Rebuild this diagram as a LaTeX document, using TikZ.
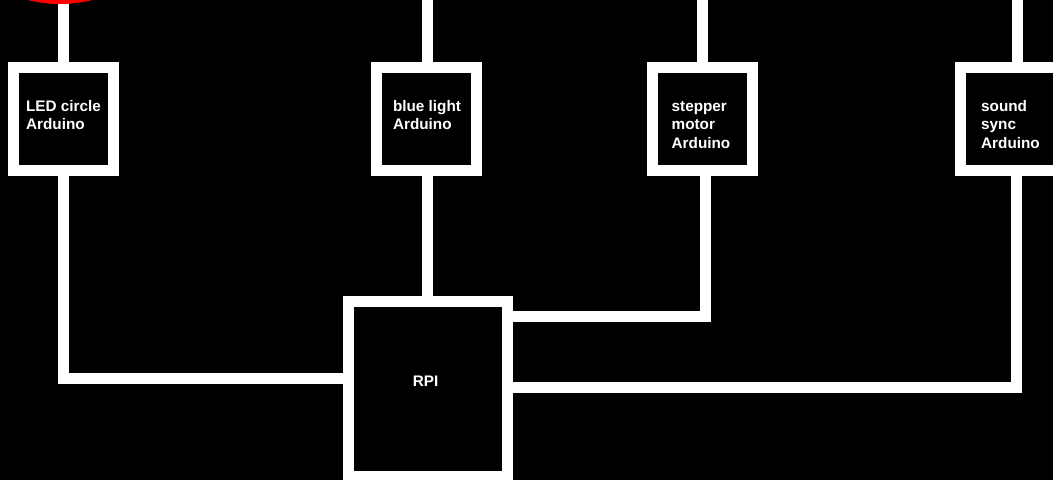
\documentclass[tikz,border=0pt]{standalone}
\usepackage{fontspec}
\setmainfont{Liberation Sans}
\usetikzlibrary{backgrounds}
\begin{document}
\begin{tikzpicture}[x=1pt,y=-1pt,
  wire/.style={draw=white,line width=11pt},
  box/.style={draw=white,line width=11pt,fill=black,inner sep=0pt,minimum width=100pt,minimum height=103pt},
  bigbox/.style={box,minimum width=159pt,minimum height=175pt},
  lbl/.style={text=white,font=\fontsize{15.3}{18.7}\selectfont\bfseries,inner sep=0pt,anchor=base}]
\useasboundingbox (0,0) rectangle (1053,480);
% boxes
\node[box] (b1) at (63.5,119) {};
\node[box] (b2) at (426,119) {};
\node[box] (b3) at (702.5,119) {};
\node[box] (b4) at (1010.5,119) {};
\node[bigbox] (rpi) at (428,389) {};
% top free ends
\coordinate (t1) at (63,-10);
\coordinate (t2) at (427.5,-10);
\coordinate (t3) at (702,-10);
\coordinate (t4) at (1017,-10);
\begin{pgfonlayer}{background}
\fill[black] (0,0) rectangle (1053,480);
\draw[wire] (t1) -- (t1 |- b1.north);
\draw[wire] (t2) -- (t2 |- b2.north);
\draw[wire] (t3) -- (t3 |- b3.north);
\draw[wire] (t4) -- (t4 |- b4.north);
\draw[wire] ([xshift=-0.5pt]b1.south) |- ([yshift=11pt]rpi.west);
\draw[wire] ([xshift=1.5pt]b2.south) coordinate (c2) -- (c2 |- rpi.north);
\draw[wire] ([xshift=2.5pt]b3.south) |- ([yshift=73pt]rpi.east);
\draw[wire] ([xshift=5.5pt]b4.south) |- ([yshift=2pt]rpi.east);
% LED circle (mostly off the top edge)
\fill[red] (60,-126) circle[radius=130pt];
\end{pgfonlayer}
% labels
\node[lbl] (l1) at (63.5,111) {\begin{tabular}[t]{@{}l@{}}LED circle\\Arduino\end{tabular}};
\node[lbl] (l2) at (427,111) {\begin{tabular}[t]{@{}l@{}}blue light\\Arduino\end{tabular}};
\node[lbl] (l3) at (701,111) {\begin{tabular}[t]{@{}l@{}}stepper\\motor\\Arduino\end{tabular}};
\node[lbl] (l4) at (1010.5,111) {\begin{tabular}[t]{@{}l@{}}sound\\sync\\Arduino\end{tabular}};
\node[lbl] (lr) at (425.5,386) {RPI};
\end{tikzpicture}
\end{document}
